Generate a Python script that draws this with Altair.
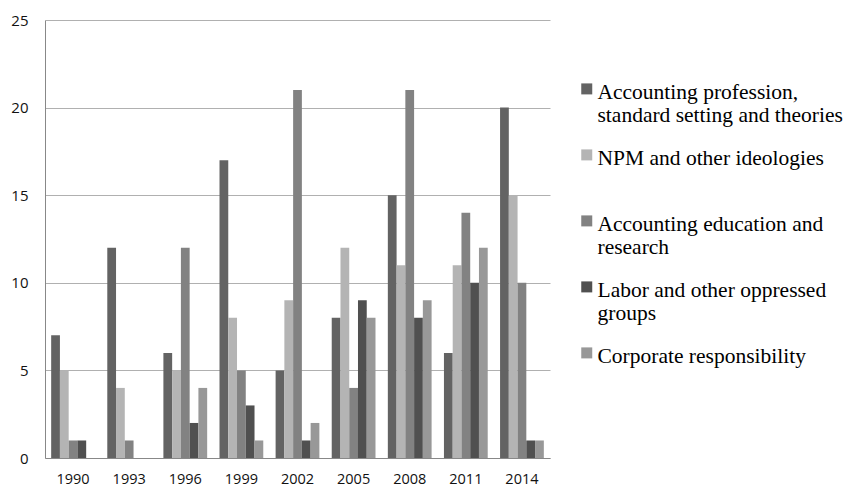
import altair as alt
import pandas as pd

years = ["1990", "1993", "1996", "1999", "2002", "2005", "2008", "2011", "2014"]
series = [
    "Accounting profession,|standard setting and theories",
    "NPM and other ideologies| ",
    "Accounting education and|research",
    "Labor and other oppressed|groups",
    "Corporate responsibility",
]
values = [
    [7, 12, 6, 17, 5, 8, 15, 6, 20],
    [5, 4, 5, 8, 9, 12, 11, 11, 15],
    [1, 1, 12, 5, 21, 4, 21, 14, 10],
    [1, 0, 2, 3, 1, 9, 8, 10, 1],
    [0, 0, 4, 1, 2, 8, 9, 12, 1],
]
colors = ["#636363", "#b4b4b4", "#828282", "#505050", "#989898"]

rows = []
for si, s in enumerate(series):
    for yi, y in enumerate(years):
        rows.append({"year": y, "series": s, "order": si, "value": values[si][yi]})
df = pd.DataFrame(rows)

chart = (
    alt.Chart(df)
    .mark_bar()
    .encode(
        x=alt.X(
            "year:N",
            sort=years,
            title=None,
            scale=alt.Scale(paddingInner=0.22, paddingOuter=0.11),
            axis=alt.Axis(
                labelAngle=0,
                ticks=False,
                domainColor="#888888",
                labelFont="Open Sans",
                labelFontSize=14.5,
                labelColor="#111111",
                labelPadding=14,
                grid=False,
            ),
        ),
        xOffset=alt.XOffset("series:N", sort=series, scale=alt.Scale(paddingInner=0, paddingOuter=0)),
        y=alt.Y(
            "value:Q",
            title=None,
            scale=alt.Scale(domain=[0, 25]),
            axis=alt.Axis(
                values=[0, 5, 10, 15, 20, 25],
                ticks=False,
                domainColor="#888888",
                gridColor="#b0b0b0",
                labelFont="Open Sans",
                labelFontSize=15,
                labelColor="#111111",
                labelPadding=17,
            ),
        ),
        color=alt.Color(
            "series:N",
            sort=series,
            scale=alt.Scale(domain=series, range=colors),
            legend=alt.Legend(
                title=None,
                orient="none",
                legendX=531,
                legendY=51,
                symbolType="M -1 0.3 L 1 0.3 L 1 2.3 L -1 2.3 Z",
                symbolSize=121,
                symbolStrokeWidth=0,
                labelFont="Liberation Serif",
                labelFontSize=21.5,
                labelColor="#000000",
                labelLimit=400,
                labelOffset=0,
                labelBaseline="top",
                rowPadding=10,
                labelExpr="split(datum.label, '|')",
            ),
        ),
    )
    .properties(
        width=505,
        height=438,
        autosize=alt.AutoSizeParams(type="none"),
        padding={"left": 37, "top": 12, "right": 298, "bottom": 30},
    )
    .configure_view(stroke=None)
    .configure_axis(gridWidth=1, domainWidth=1)
)

chart.save("out.html", embed_options={"renderer": "svg", "actions": False})
